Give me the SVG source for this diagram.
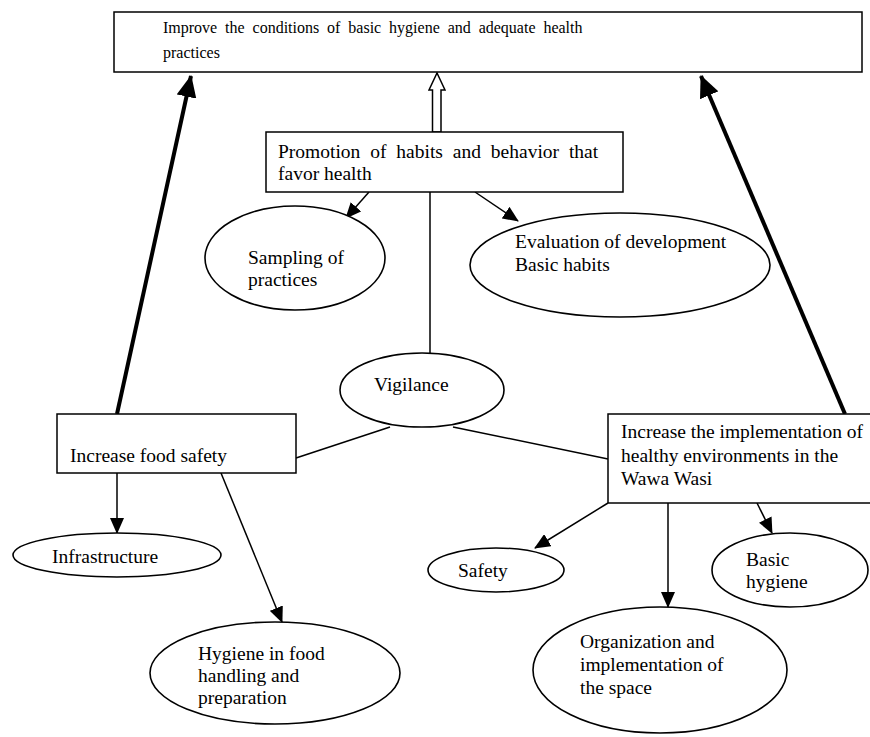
<svg xmlns="http://www.w3.org/2000/svg" width="870" height="737" viewBox="0 0 870 737">
<style>
.box{fill:#fff;stroke:#000;stroke-width:1.5}
.ell{fill:#fff;stroke:#000;stroke-width:1.6}
.t{font-family:"Liberation Serif","Times New Roman",serif;font-size:19.5px;fill:#000}
.ts{font-family:"Liberation Serif","Times New Roman",serif;font-size:16px;fill:#000}
.c{stroke:#000;stroke-width:1.5;fill:none}
.thick{stroke:#000;stroke-width:4;fill:none}
</style>
<defs>
<marker id="ah" markerUnits="userSpaceOnUse" markerWidth="16" markerHeight="14" viewBox="0 0 16 14" refX="15" refY="7" orient="auto">
<path d="M0,0 L16,7 L0,14 Z" fill="#000"/>
</marker>
<marker id="ahb" markerUnits="userSpaceOnUse" markerWidth="22" markerHeight="20" viewBox="0 0 22 20" refX="21" refY="10" orient="auto">
<path d="M0,0 L22,10 L0,20 Z" fill="#000"/>
</marker>
</defs>
<rect width="870" height="737" fill="#fff"/>
<g id="connectors">
<line class="thick" x1="117" y1="414" x2="191" y2="76" marker-end="url(#ahb)"/>
<line class="thick" x1="845" y1="414" x2="701" y2="76" marker-end="url(#ahb)"/>
<polygon points="432.5,132 432.5,90 429,90 437,73 445,90 441,90 441,132" fill="#fff" stroke="#000" stroke-width="1.5"/>
<line class="c" x1="369" y1="192" x2="346" y2="218" marker-end="url(#ah)"/>
<line class="c" x1="475" y1="192" x2="518" y2="221" marker-end="url(#ah)"/>
<line class="c" x1="430" y1="192" x2="430" y2="353"/>
<line class="c" x1="296" y1="458" x2="390" y2="427"/>
<line class="c" x1="453" y1="427" x2="608" y2="459"/>
<line class="c" x1="117" y1="473" x2="117" y2="533" marker-end="url(#ah)"/>
<line class="c" x1="221" y1="473" x2="282" y2="622" marker-end="url(#ah)"/>
<line class="c" x1="608" y1="503" x2="535" y2="548" marker-end="url(#ah)"/>
<line class="c" x1="668" y1="503" x2="668" y2="607" marker-end="url(#ah)"/>
<line class="c" x1="757" y1="503" x2="772" y2="533" marker-end="url(#ah)"/>
</g>
<g id="goal">
<rect class="box" x="114" y="12" width="748" height="60"/>
<text class="ts" x="163" y="33" word-spacing="3.9">Improve the conditions of basic hygiene and adequate health</text>
<text class="ts" x="163" y="58">practices</text>
</g>
<g id="promotion">
<rect class="box" x="266" y="132" width="357" height="60"/>
<text class="t" x="278" y="158" word-spacing="5">Promotion of habits and behavior that</text>
<text class="t" x="278" y="180">favor health</text>
</g>
<g id="sampling">
<ellipse class="ell" cx="295" cy="258" rx="90" ry="52"/>
<text class="t" x="248" y="264">Sampling of</text>
<text class="t" x="248" y="286">practices</text>
</g>
<g id="evaluation">
<ellipse class="ell" cx="620" cy="265" rx="150" ry="52"/>
<text class="t" x="515" y="248">Evaluation of development</text>
<text class="t" x="515" y="271">Basic habits</text>
</g>
<g id="vigilance">
<ellipse class="ell" cx="422" cy="390" rx="82" ry="37"/>
<text class="t" x="374" y="391">Vigilance</text>
</g>
<g id="foodsafety">
<rect class="box" x="57" y="414" width="239" height="59"/>
<text class="t" x="70" y="462">Increase food safety</text>
</g>
<g id="environments">
<rect class="box" x="608" y="414" width="270" height="89"/>
<text class="t" x="621" y="438">Increase the implementation of</text>
<text class="t" x="621" y="462">healthy environments in the</text>
<text class="t" x="621" y="485">Wawa Wasi</text>
</g>
<g id="infrastructure">
<ellipse class="ell" cx="117" cy="555" rx="104" ry="22"/>
<text class="t" x="52" y="563">Infrastructure</text>
</g>
<g id="hygienefood">
<ellipse class="ell" cx="275" cy="673" rx="125" ry="51"/>
<text class="t" x="198" y="660">Hygiene in food</text>
<text class="t" x="198" y="682">handling and</text>
<text class="t" x="198" y="704">preparation</text>
</g>
<g id="safety">
<ellipse class="ell" cx="496" cy="570" rx="68" ry="22"/>
<text class="t" x="458" y="577">Safety</text>
</g>
<g id="organization">
<ellipse class="ell" cx="660" cy="670" rx="127" ry="63"/>
<text class="t" x="580" y="648">Organization and</text>
<text class="t" x="580" y="671">implementation of</text>
<text class="t" x="580" y="694">the space</text>
</g>
<g id="basichygiene">
<ellipse class="ell" cx="790" cy="570" rx="78" ry="37"/>
<text class="t" x="746" y="566">Basic</text>
<text class="t" x="746" y="588">hygiene</text>
</g>
</svg>
